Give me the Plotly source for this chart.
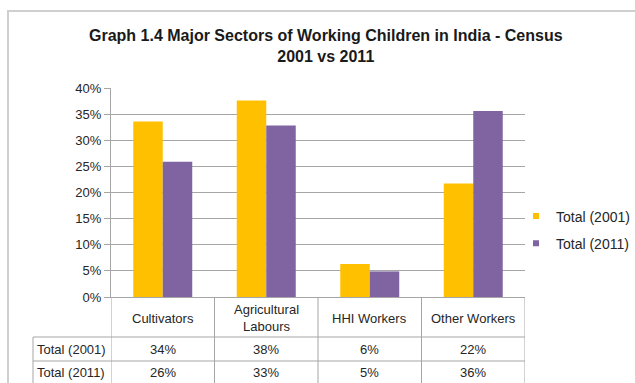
import plotly.graph_objects as go

categories = ["Cultivators", "Agricultural<br>Labours", "HHI Workers", "Other Workers"]
series_names = ["Total (2001)", "Total (2011)"]
total_2001 = [33.6, 37.6, 6.3, 21.7]
total_2011 = [25.9, 32.8, 4.9, 35.6]
table_2001 = ["34%", "38%", "6%", "22%"]
table_2011 = ["26%", "33%", "5%", "36%"]
y_ticks = [0, 5, 10, 15, 20, 25, 30, 35, 40]

colors = ["#FFC000", "#8064A2"]
FONT = "Liberation Sans, Arial, sans-serif"
TXT = "#262626"
GRID = "#a6a6a6"

W, H = 635, 383
L, R, T, B = 111, 110, 88, 86
PW, PH = W - L - R, H - T - B


def px(xp):
    return (xp - L) / PW


def py(yp):
    return (H - B - yp) / PH


xs = list(range(len(categories)))
fig = go.Figure()
for name, vals, col in zip(series_names, [total_2001, total_2011], colors):
    fig.add_trace(go.Bar(x=xs, y=vals, name=name, marker=dict(color=col, line=dict(width=0)),
                         showlegend=False))
for i, (name, col) in enumerate(zip(series_names, colors)):
    fig.add_trace(go.Scatter(x=[None], y=[None], mode="markers", name=name, legendgroup=f"g{i}",
                             marker=dict(symbol="square", size=6, color=col)))

shapes = []
# outer chart frame
shapes.append(dict(type="rect", xref="paper", yref="paper", x0=px(8), x1=px(650), y0=py(400), y1=py(11),
                   line=dict(color="#cfcfcf", width=2), layer="below"))
# table verticals at category boundaries
for b in [i - 0.5 for i in range(len(categories) + 1)]:
    shapes.append(dict(type="line", xref="x", yref="paper", x0=b, x1=b, y0=py(297), y1=py(395),
                       line=dict(color=GRID, width=1)))
shapes.append(dict(type="line", xref="paper", yref="paper", x0=px(33), x1=px(33), y0=py(337), y1=py(395),
                   line=dict(color=GRID, width=1)))
for yy in [337, 361]:
    shapes.append(dict(type="line", xref="paper", yref="paper", x0=px(33), x1=1, y0=py(yy), y1=py(yy),
                       line=dict(color=GRID, width=1)))

ann = []
ann.append(dict(text="<b>Graph 1.4 Major Sectors of Working Children in India - Census<br>2001 vs 2011</b>",
                xref="paper", yref="paper", x=px(326), y=py(46), xanchor="center", yanchor="middle",
                showarrow=False, font=dict(family=FONT, size=16, color="#1a1a1a")))
for i, c in enumerate(categories):
    ann.append(dict(text=c, xref="x", yref="paper", x=i, y=py(318), xanchor="center", yanchor="middle",
                    showarrow=False, font=dict(family=FONT, size=13, color=TXT)))
    ann.append(dict(text=table_2001[i], xref="x", yref="paper", x=i, y=py(349), xanchor="center",
                    yanchor="middle", showarrow=False, font=dict(family=FONT, size=13, color=TXT)))
    ann.append(dict(text=table_2011[i], xref="x", yref="paper", x=i, y=py(372), xanchor="center",
                    yanchor="middle", showarrow=False, font=dict(family=FONT, size=13, color=TXT)))
for name, yy in zip(series_names, [349, 372]):
    ann.append(dict(text=name, xref="paper", yref="paper", x=px(35), y=py(yy), xanchor="left",
                    yanchor="middle", showarrow=False, font=dict(family=FONT, size=13, color=TXT)))

fig.update_layout(
    width=W, height=H, margin=dict(l=L, r=R, t=T, b=B, autoexpand=False),
    paper_bgcolor="white", plot_bgcolor="white",
    barmode="group", bargap=0.43, bargroupgap=0,
    font=dict(family=FONT, size=13, color=TXT),
    shapes=shapes, annotations=ann,
    legend=dict(x=px(516), y=py(230), xanchor="left", yanchor="middle", tracegroupgap=6,
                font=dict(family=FONT, size=14, color=TXT), bgcolor="rgba(0,0,0,0)"),
    xaxis=dict(range=[-0.5, len(categories) - 0.5], showticklabels=False, ticks="", showgrid=False,
               showline=True, linecolor=GRID, linewidth=1, zeroline=False, fixedrange=True),
    yaxis=dict(range=[0, 40], tickvals=y_ticks, ticktext=[f"{v}%" for v in y_ticks],
               showgrid=True, gridcolor=GRID, gridwidth=1, showline=True, linecolor=GRID, linewidth=1,
               ticks="outside", ticklen=6, tickcolor=GRID, zeroline=False,
               tickfont=dict(family=FONT, size=13, color=TXT), fixedrange=True),
)
fig.write_html("out.html")
